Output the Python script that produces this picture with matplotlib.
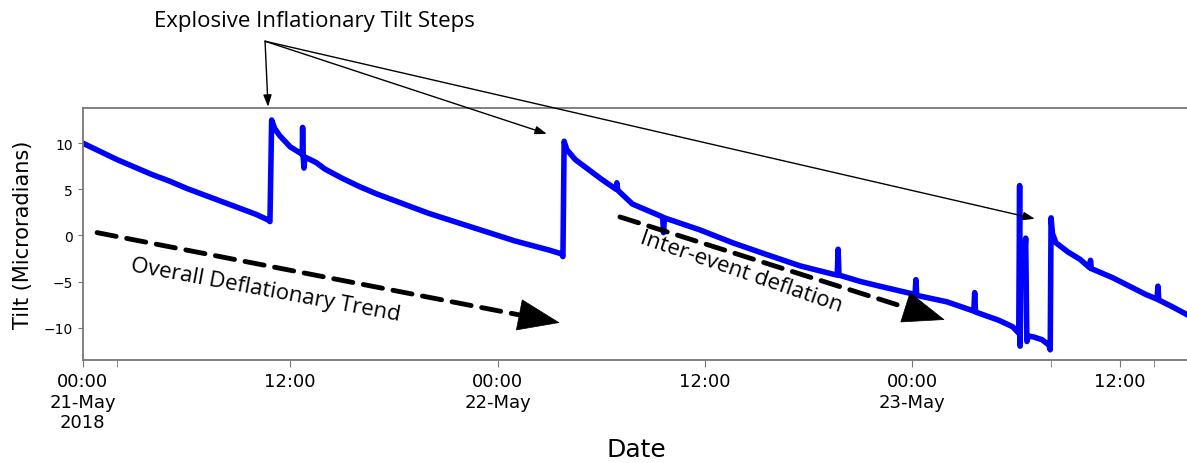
import matplotlib.pyplot as plt

# hours since 2018-05-21 00:00 and tilt (microradians)
hours = [0.0, 1.0, 2.0, 3.0, 4.0, 5.0, 6.0, 7.0, 8.0, 9.0, 10.0, 10.7, 10.83,
         10.93, 11.1, 11.4, 12.0, 12.6, 12.70, 12.72, 12.75, 12.80, 12.85, 13.5,
         14.0, 15.0, 16.0, 17.0, 18.0, 19.0, 20.0, 21.0, 22.0, 23.0, 24.0, 25.0,
         26.0, 27.0, 27.7, 27.78,
         27.85, 28.0, 28.5, 29.0, 30.0, 30.85, 30.9, 30.95, 31.8, 33.55, 33.6,
         33.65, 35.7, 37.6, 39.6, 41.5, 43.4, 43.65, 43.7, 43.75, 45.0, 46.1,
         48.15, 48.2, 48.25, 50.0, 51.55, 51.6, 51.65, 53.0, 53.8, 54.15, 54.2,
         54.23, 54.27, 54.32, 54.45, 54.55, 54.62, 54.7, 55.0, 55.5, 55.9, 55.97,
         56.02, 56.1, 56.3, 57.0, 57.7, 58.25, 58.3, 58.35, 59.6, 61.5, 62.15,
         62.2, 62.25, 63.0, 64.0]
tilt = [10.0, 9.1, 8.2, 7.4, 6.6, 5.9, 5.1, 4.4, 3.7, 3.0, 2.3, 1.7, 1.5,
        12.5, 11.6, 10.8, 9.6, 8.9, 8.8, 11.7, 8.6, 7.3, 8.5, 7.9,
        7.2, 6.2, 5.3, 4.5, 3.8, 3.1, 2.4, 1.8, 1.2, 0.6, 0.0, -0.6,
        -1.1, -1.6, -2.0, -2.3,
        10.2, 9.3, 8.2, 7.5, 6.1, 5.0, 5.7, 4.9, 3.4, 2.0, 0.3,
        1.9, 0.6, -0.8, -2.1, -3.3, -4.2, -4.3, -1.5, -4.3, -5.0, -5.5,
        -6.4, -4.8, -6.5, -7.2, -8.2, -6.2, -8.3, -9.2, -9.9, -10.6, 5.4,
        -12.0, -3.4, -3.4, -3.6, -0.3, -11.5, -10.9, -11.0, -11.3, -11.9, -12.4,
        1.9, 0.2, -0.8, -1.8, -2.6, -3.5, -2.7, -3.6, -4.6, -6.4, -6.9,
        -5.5, -7.0, -7.7, -8.7]

tick_hours = [0, 12, 24, 36, 48, 60]
tick_labels = ['00:00\n21-May\n2018', '12:00', '00:00\n22-May', '12:00',
               '00:00\n23-May', '12:00']
extra_tick_hours = [2, 56, 62]

step_targets = [(10.72, 13.94), (26.85, 11.0), (55.08, 1.8)]

fig = plt.figure(figsize=(11.87, 4.64), dpi=100)
ax = fig.add_axes([0.0697, 0.222, 0.932, 0.543])

ax.plot(hours, tilt, color='#0000ff', lw=4.0, solid_joinstyle='round')

ax.set_xlim(0, 64.0)
ax.set_ylim(-13.5, 13.8)
ax.set_yticks([-10, -5, 0, 5, 10])
ax.set_xticks(tick_hours)
ax.set_xticklabels(tick_labels, fontsize=13)
ax.set_xticks(extra_tick_hours, minor=True)
ax.tick_params(axis='y', labelsize=10, color='#777777')
ax.tick_params(axis='x', which='both', length=5, color='#777777')
for s in ax.spines.values():
    s.set_color('#777777')
    s.set_linewidth(1.3)
ax.spines['right'].set_visible(False)

ax.set_xlabel('Date', fontsize=18, labelpad=4)
ax.set_ylabel('Tilt (Microradians)', fontsize=15, labelpad=8)

# annotations
afont = 'Open Sans'
fig.text(0.2645, 0.953, 'Explosive Inflationary Tilt Steps', family=afont,
         fontsize=16, ha='center', va='center')
for tx, ty in step_targets:
    ax.annotate('', xy=(tx, ty), xytext=(0.2233, 0.909),
                textcoords='figure fraction', annotation_clip=False,
                arrowprops=dict(arrowstyle='-|>,head_length=0.7,head_width=0.25',
                                lw=1.0, color='black', shrinkA=0, shrinkB=0))


def trend_arrow(start, tip, frac):
    base = (tip[0] - frac * (tip[0] - start[0]), tip[1] - frac * (tip[1] - start[1]))
    ax.annotate('', xy=base, xytext=start,
                arrowprops=dict(arrowstyle='-', lw=3.5, ls=(0, (4, 2.2)),
                                color='black', shrinkA=0, shrinkB=0))
    ax.annotate('', xy=tip, xytext=base,
                arrowprops=dict(arrowstyle='-|>,head_length=1.45,head_width=0.55',
                                lw=0.5, color='black', shrinkA=0, shrinkB=0,
                                mutation_scale=20))


trend_arrow((0.83, 0.3), (27.6, -9.47), 0.09)
ax.text(10.56, -5.9, 'Overall Deflationary Trend', family=afont, fontsize=16,
        rotation=-10.5, ha='center', va='center', rotation_mode='anchor')

trend_arrow((31.08, 2.0), (49.87, -9.15), 0.12)
ax.text(38.1, -3.9, 'Inter-event deflation', family=afont, fontsize=16,
        rotation=-19, ha='center', va='center', rotation_mode='anchor')

fig.savefig('out.png', dpi=100)
